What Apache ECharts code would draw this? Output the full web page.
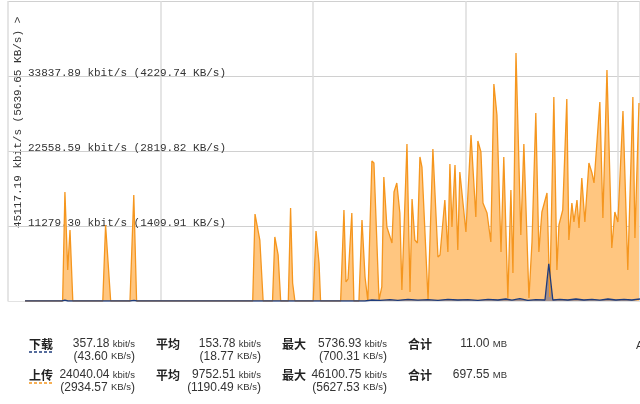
<!DOCTYPE html>
<html>
<head>
<meta charset="utf-8">
<script src="https://cdn.jsdelivr.net/npm/echarts@6/dist/echarts.min.js"></script>
<style>
html,body{margin:0;padding:0;background:#fff;}
#traffic{width:640px;height:404px;}
</style>
</head>
<body>
<div id="traffic"></div>
<script>
// seconds since graph start, kbit/s
var upTimes = [6.7,21.5,22.4,23.5,24.4,25.5,37.3,38.4,40.4,48.0,49.5,50.6,96.3,97.2,99.1,100.4,104.1,105.0,106.3,107.3,110.3,111.2,112.0,112.9,120.1,121.2,122.4,123.0,130.9,132.2,133.0,133.8,135.3,136.1,138.1,139.3,140.5,141.6,143.2,144.0,146.0,147.1,147.9,149.1,151.1,151.9,153.0,154.2,155.0,157.0,158.2,159.0,160.1,161.1,162.1,162.9,165.3,167.2,169.2,170.0,171.9,173.1,173.9,174.7,175.9,177.0,177.8,180.2,182.2,184.1,184.9,186.1,186.9,188.5,190.0,191.2,192.4,194.0,195.1,196.7,197.9,198.7,199.9,201.8,203.0,205.0,206.2,206.9,207.7,208.9,210.1,210.7,212.1,213.2,214.8,216.0,216.8,218.3,219.9,220.7,221.9,222.7,223.9,224.7,225.8,227.0,228.6,229.8,230.6,232.9,234.1,235.7,237.6,238.8,240.0,242.0,243.9,245.9,246.7,248.3]
var upValues = [0,0,16390,4660,10680,0,0,11430,0,0,15940,0,0,13080,9170,0,0,9630,6920,0,0,13990,2710,0,0,10530,5720,0,0,13690,2860,3310,13230,0,0,12180,3610,0,21060,20750,150,2110,18650,11130,8720,16390,17750,13230,1650,23610,1350,15340,9170,8720,21660,20150,150,22860,6620,6920,15190,7370,20600,11130,20450,7670,19400,10380,24970,12630,24060,22410,14740,13230,8870,32640,27970,7370,21660,450,16690,4210,37300,9930,23610,450,8870,8870,28270,7370,13390,13390,16240,600,30680,4660,11430,13690,30380,9170,14740,11880,15190,10980,18500,11880,20750,19250,17750,29930,12480,34740,7970,13390,11880,28570,4660,30680,9480,29780]

var downTimes = [6.7,21.2,22.4,23.6,48.0,49.6,50.8,140.5,143.2,146.4,150.3,153.4,157.4,161.3,165.2,169.2,173.1,177.0,181.0,184.9,188.9,192.8,195.9,198.3,201.4,204.6,207.7,211.3,212.8,214.4,217.2,220.3,223.5,226.6,229.8,232.9,236.1,239.2,242.4,245.5,248.7]
var downValues = [0,0,120,0,0,100,0,0,150,80,200,100,250,120,200,100,250,150,200,100,250,150,300,120,350,100,200,150,5600,150,250,150,300,150,250,120,300,150,250,150,300]

var yMax = 45117.19
var yTickLabels = ['', '11279.30 kbit/s (1409.91 KB/s)', '22558.59 kbit/s (2819.82 KB/s)', '33837.89 kbit/s (4229.74 KB/s)', '']
var yTopLabel = '45117.19 kbit/s (5639.65 KB/s) >'

// legend table below the graph
var rowNames = ['下载', '上传']
var curKbit = ['357.18', '24040.04']
var curKB = ['43.60', '2934.57']
var avgKbit = ['153.78', '9752.51']
var avgKB = ['18.77', '1190.49']
var peakKbit = ['5736.93', '46100.75']
var peakKB = ['700.31', '5627.53']
var totalMB = ['11.00', '697.55']

function pairs(ts, vs){
	var out = []
	for(var i=0,len=ts.length;i<len;i++){
		out.push([ts[i], vs[i]])
	}
	return out
}

var numFont = '"Liberation Sans", Arial, sans-serif'
var cjkFont = '"Noto Sans CJK SC", sans-serif'
var rich = {
	n: {fontFamily: numFont, fontSize: 12, fill: '#333', color: '#333'},
	u: {fontFamily: numFont, fontSize: 9.5, fill: '#333', color: '#333'}
}

function valText(x, y, num, unit, wrap){
	var t = wrap ? '{n|(' + num + '} {u|' + unit + '}{n|)}' : '{n|' + num + '} {u|' + unit + '}'
	return {
		type: 'text', x: x, y: y, silent: true,
		style: {text: t, rich: rich, align: 'right', verticalAlign: 'middle'}
	}
}
function headText(x, y, s){
	return {
		type: 'text', x: x, y: y, silent: true,
		style: {text: s, font: 'bold 12px ' + cjkFont, fill: '#222', align: 'left', verticalAlign: 'middle'}
	}
}

var graphics = [{
	type: 'text', x: 18, y: 228, rotation: Math.PI / 2, silent: true,
	style: {text: yTopLabel, font: '11px "Liberation Mono", monospace', fill: '#333', align: 'left', verticalAlign: 'middle'}
}]
var rowY = [344, 375]
var lineColors = ['#1e3c7c', '#f5961e']
for(var r=0;r<2;r++){
	var y1 = rowY[r]
	var y2 = y1 + 12.5
	graphics.push(headText(29, y1, rowNames[r]))
	graphics.push({
		type: 'line', silent: true,
		shape: {x1: 29, y1: y1 + 8, x2: 54, y2: y1 + 8},
		style: {stroke: lineColors[r], lineWidth: 1.5, lineDash: [3, 2]}
	})
	graphics.push(valText(135, y1, curKbit[r], 'kbit/s', false))
	graphics.push(valText(135, y2, curKB[r], 'KB/s', true))
	graphics.push(headText(156, y1, '平均'))
	graphics.push(valText(261, y1, avgKbit[r], 'kbit/s', false))
	graphics.push(valText(261, y2, avgKB[r], 'KB/s', true))
	graphics.push(headText(282, y1, '最大'))
	graphics.push(valText(387, y1, peakKbit[r], 'kbit/s', false))
	graphics.push(valText(387, y2, peakKB[r], 'KB/s', true))
	graphics.push(headText(408, y1, '合计'))
	graphics.push(valText(507, y1, totalMB[r], 'MB', false))
}
graphics.push({
	type: 'text', x: 636, y: 346, silent: true,
	style: {text: 'A', font: '11px ' + numFont, fill: '#333', align: 'left', verticalAlign: 'middle'}
})

var traffic_echart = echarts.init(document.getElementById('traffic'))
var traffic_option = {
	animation: false,
	grid: {left: 8, right: 0, top: 1, bottom: 103},
	xAxis: {
		type: 'value',
		min: 0,
		max: 248.7,
		interval: 60,
		axisLine: {show: true, onZero: false, offset: 3, lineStyle: {color: '#e2e2e2', width: 1}},
		axisTick: {show: false},
		axisLabel: {show: false},
		splitLine: {show: true, lineStyle: {color: '#dcdcdc', width: 1.5}}
	},
	yAxis: {
		type: 'value',
		min: 0,
		max: yMax,
		interval: yMax / 4,
		axisLine: {show: false},
		axisTick: {show: false},
		axisLabel: {
			inside: true,
			margin: 20,
			fontFamily: '"Liberation Mono", monospace',
			fontSize: 11,
			color: '#333',
			verticalAlign: 'bottom',
			lineHeight: 6,
			formatter: function(v, i){ return yTickLabels[i] || '' }
		},
		splitLine: {show: true, lineStyle: {color: '#d0d0d0', width: 1}}
	},
	series: [
		{
			name: '上传',
			type: 'line',
			symbol: 'none',
			smooth: false,
			lineStyle: {color: '#f5961e', width: 1.3},
			areaStyle: {color: '#ffc680', opacity: 1},
			data: pairs(upTimes, upValues)
		},
		{
			name: '下载',
			type: 'line',
			symbol: 'none',
			smooth: false,
			lineStyle: {color: '#1e3c7c', width: 1.3},
			areaStyle: {color: 'rgba(40,70,150,0.6)'},
			data: pairs(downTimes, downValues)
		}
	],
	graphic: graphics
}
traffic_echart.setOption(traffic_option)
</script>
</body>
</html>
